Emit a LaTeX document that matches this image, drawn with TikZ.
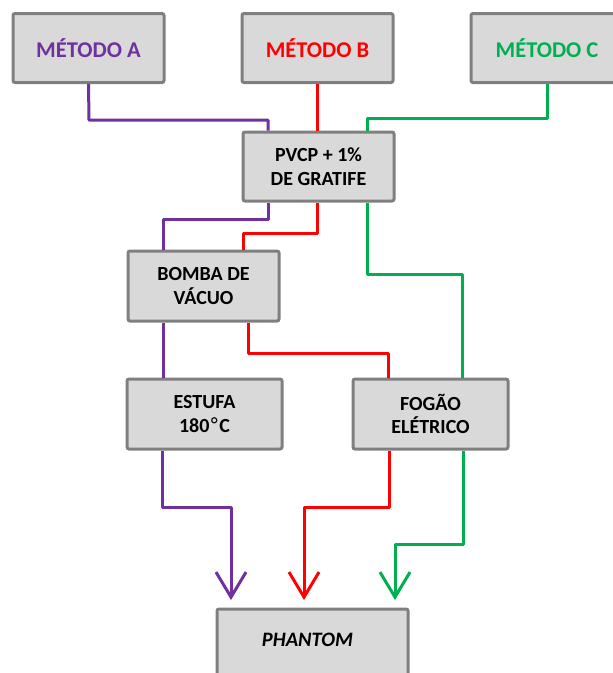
\documentclass[tikz,border=0pt]{standalone}
\usepackage{fontspec}
\setmainfont{Carlito}
\newfontfamily\dvfont{DejaVu Sans}
\usetikzlibrary{arrows.meta}
\definecolor{cpurple}{HTML}{7030A0}
\definecolor{cred}{HTML}{FF0000}
\definecolor{cgreen}{HTML}{00B050}
\definecolor{boxfill}{HTML}{D9D9D9}
\definecolor{boxline}{HTML}{7F7F7F}
\tikzset{
  box/.style={draw=boxline, fill=boxfill, line width=3pt, rounded corners=2pt,
    align=center, inner sep=0pt, font=\fontsize{20}{23.5}\selectfont\bfseries},
  topbox/.style={box, minimum width=151pt, minimum height=69pt, font=\fontsize{22.5}{26}\selectfont\bfseries},
  txt/.style={inner sep=0pt, align=center, font=\fontsize{20}{23.5}\selectfont\bfseries},
  conn/.style={line width=3pt, line join=round},
  arr/.style={conn, -{Straight Barb[length=25pt,width=30pt,line width=3pt]}},
}
\begin{document}
\begin{tikzpicture}[x=1pt,y=-1pt]
\useasboundingbox (0,0) rectangle (613,673);
\clip (0,0) rectangle (613,673);
% boxes
\node[topbox, text=cpurple] (ma) at (88.5,48) {MÉTODO A};
\node[topbox, text=cred] (mb) at (317.5,48) {MÉTODO B};
\node[topbox, minimum width=152pt, text=cgreen] (mc) at (547,48) {MÉTODO C};
\node[box, minimum width=151pt, minimum height=69pt] (pv) at (318.5,166.5) {PVCP + 1\%\\DE GRATIFE};
\node[box, minimum width=151pt, minimum height=70pt] (bv) at (203.5,286) {BOMBA DE\\VÁCUO};
\node[box, minimum width=155pt, minimum height=70pt] (es) at (204.5,414) {ESTUFA\\180{\dvfont\mdseries °}C};
\node[box, minimum width=155pt, minimum height=70pt] (fg) at (430.5,414) {FOGÃO\\ELÉTRICO};
\node[box, minimum width=191pt, minimum height=69pt] (ph) at (312.5,643.5) {};
\node[txt, font=\fontsize{20.5}{23}\selectfont\bfseries\itshape] (phtext) at (307.5,640) {PHANTOM};
% coordinates
\coordinate (a1) at (89,120);  \coordinate (a2) at (268,120);
\coordinate (a3) at (268,219); \coordinate (a4) at (163,219);
\coordinate (a5) at (162,507); \coordinate (a6) at (231,507); \coordinate (ta) at (231,600);
\coordinate (c1) at (547,118); \coordinate (c2) at (367,118);
\coordinate (c3) at (367,274); \coordinate (c4) at (462,274);
\coordinate (c5) at (463,544); \coordinate (c6) at (395,544); \coordinate (tc) at (395,600);
\coordinate (b2) at (317,233); \coordinate (b3) at (243,233);
\coordinate (b4) at (248,353); \coordinate (b5) at (388,353);
\coordinate (b6) at (389,507); \coordinate (b7) at (304,507); \coordinate (tb) at (304,600);
% purple
\draw[conn, cpurple] (ma.south) -- (a1) -- (a2) -- (a2 |- pv.north);
\draw[conn, cpurple] (a3 |- pv.south) -- (a3) -- (a4) -- (a4 |- bv.north);
\draw[conn, cpurple] (a4 |- bv.south) -- (a4 |- es.north);
\draw[arr, cpurple] (a5 |- es.south) -- (a5) -- (a6) -- (ta);
% red
\draw[conn, cred] (b2 |- mb.south) -- (b2 |- pv.north);
\draw[conn, cred] (b2 |- pv.south) -- (b2) -- (b3) -- (b3 |- bv.north);
\draw[conn, cred] (b4 |- bv.south) -- (b4) -- (b5) -- (b5 |- fg.north);
\draw[arr, cred] (b6 |- fg.south) -- (b6) -- (b7) -- (tb);
% green
\draw[conn, cgreen] (c1 |- mc.south) -- (c1) -- (c2) -- (c2 |- pv.north);
\draw[conn, cgreen] (c3 |- pv.south) -- (c3) -- (c4) -- (c4 |- fg.north);
\draw[arr, cgreen] (c5 |- fg.south) -- (c5) -- (c6) -- (tc);
\end{tikzpicture}
\end{document}
